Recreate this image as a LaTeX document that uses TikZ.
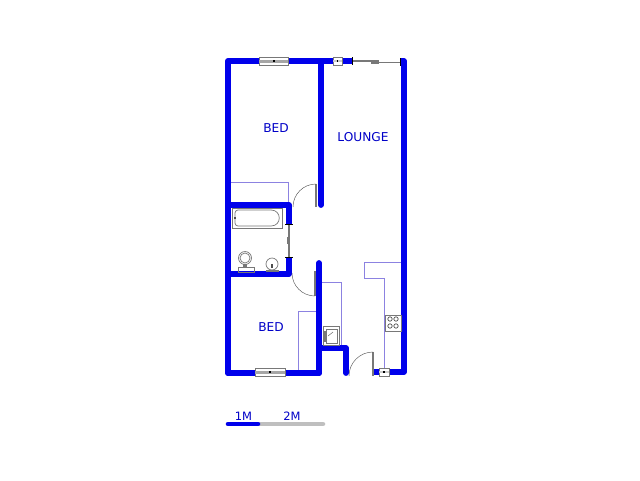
\documentclass[tikz,border=0pt]{standalone}
\usepackage{fontspec}
\setmainfont{DejaVu Sans}
\definecolor{wallblue}{RGB}{0,0,235}
\definecolor{fit}{RGB}{140,130,225}
\definecolor{gr}{RGB}{120,120,120}
\tikzset{x=1pt,y=-1pt,
 wall/.style={draw=wallblue,line width=5.8pt,line cap=round,line join=round},
 fitline/.style={draw=fit,line width=0.8pt},
 label/.style={text=wallblue!85!black,font=\fontsize{12.2}{14}\selectfont,inner sep=0pt},
 scalelabel/.style={text=wallblue!85!black,font=\fontsize{11.5}{13}\selectfont,inner sep=0pt},
 win/.style={draw=gr,fill=white,line width=0.7pt},
 doorleaf/.style={draw=gr,line width=1.2pt},
 swing/.style={draw=black!65,line width=0.45pt},
 appl/.style={draw=gr,line width=0.7pt}}
\begin{document}
\begin{tikzpicture}
\useasboundingbox (0,0) rectangle (640,480);
\fill[white] (0,0) rectangle (640,480);
% fittings
\draw[fitline] (230,182) -- (288,182) -- (288,202);
\draw[fitline] (322,282) -- (341,282) -- (341,346) -- (322,346);
\draw[fitline] (298,370) -- (298,311) -- (317,311);
\draw[fitline] (402,262) -- (364,262) -- (364,278) -- (384,278) -- (384,370);
% walls
\draw[wall,line cap=butt] (352,61) -- (228,61) -- (228,373) -- (319,373) -- (319,263);
\draw[wall] (228,373) -- (319,373) -- (319,263);
\draw[wall] (321,61) -- (321,205);
\draw[wall,line cap=butt] (400,61) -- (404,61) -- (404,372) -- (374,372);
\draw[wall,line cap=butt] (228,205) -- (289,205) -- (289,225);
\draw[wall,line cap=butt] (228,274) -- (289,274) -- (289,257);
\draw[wall] (319,348) -- (346,348) -- (346,373);
% windows
\foreach \a/\b/\y/\n in {259/288/61/w1,255/285/372/w2}{
 \draw[win] (\a,\y-4) rectangle (\b,\y+4);
 \fill[gray!70] (\a,\y-1.5) rectangle (\b,\y+1.5);
 \fill[black] (\a/2+\b/2-1,\y-1) rectangle (\a/2+\b/2+1,\y+1);
}
\foreach \a/\b/\y in {333/342/61,379/389/372}{
 \draw[win] (\a,\y-4) rectangle (\b,\y+4);
 \fill[gray!40] (\a,\y-1) rectangle (\b,\y+1);
 \fill[black] (\a/2+\b/2-.7,\y-.7) rectangle (\a/2+\b/2+.7,\y+.7);
}
% sliding door
\draw[doorleaf] (352,61) -- (379,61);
\draw[doorleaf] (379,62.5) -- (400,62.5);
\fill[gr] (371,60) rectangle (379,64);
\draw[black,line width=.6pt] (352,57) -- (352,65) (400,58) -- (400,66);
% bath door (slider)
\draw[doorleaf] (289,225) -- (289,257);
\fill[gr] (287,237) rectangle (290,244);
\draw[black,line width=.6pt] (285,224) -- (293,224) (285,257) -- (293,257);
% swing doors
\draw[doorleaf] (316,184) -- (316,207);
\draw[swing] (316,184) arc[start angle=-90,end angle=-180,radius=23];
\draw[doorleaf] (315,271) -- (315,296);
\draw[swing] (292,273) arc[start angle=180,end angle=90,radius=23];
\draw[doorleaf] (373,352) -- (373,376);
\draw[swing] (373,352) arc[start angle=-90,end angle=-180,radius=24];
% bath
\draw[appl] (232,208) rectangle (282,228);
\draw[appl,rounded corners=3pt] (235,210) -- (268,210) .. controls (282,210) and (282,226) .. (268,226) -- (235,226) -- cycle;
\fill[black!70] (234,217) rectangle (236,219);
% basin
\draw[appl] (245,258) circle (6.5);
\draw[appl] (245,258) circle (5);
\draw[appl] (238,267) rectangle (254,272);
\fill[gr] (243,264) rectangle (247,267);
% toilet
\draw[appl] (272,264) circle (6);
\fill[black!70] (271,264) rectangle (273,268);
\fill[gr] (266,270) rectangle (279,272);
% sink
\draw[appl] (323,326) rectangle (339,345);
\draw[appl] (326,329) rectangle (337,343);
\fill[gr] (323,331) rectangle (326,342);
\draw[black!70,line width=.4pt] (328,336) -- (333,332);
% stove
\draw[appl] (385,315) rectangle (401,331);
\foreach \p/\q/\r in {390/319/2.2,396/319/2.2,390/326/2.2,396/326/2.2}{\draw[black!70,line width=.7pt] (\p,\q) circle (\r);}
% labels
\node[label] (bed1) at (276,128) {BED};
\node[label] (lounge) at (363,137) {LOUNGE};
\node[label] (bed2) at (271,327) {BED};
% scale
\draw[gray!50,line width=4.5pt,line cap=round] (228,424) -- (323,424);
\draw[wallblue,line width=4.5pt,line cap=round] (228,424) -- (258,424);
\node[scalelabel] (m1) at (243.5,416) {1M};
\node[scalelabel] (m2) at (292,416) {2M};
\end{tikzpicture}
\end{document}
